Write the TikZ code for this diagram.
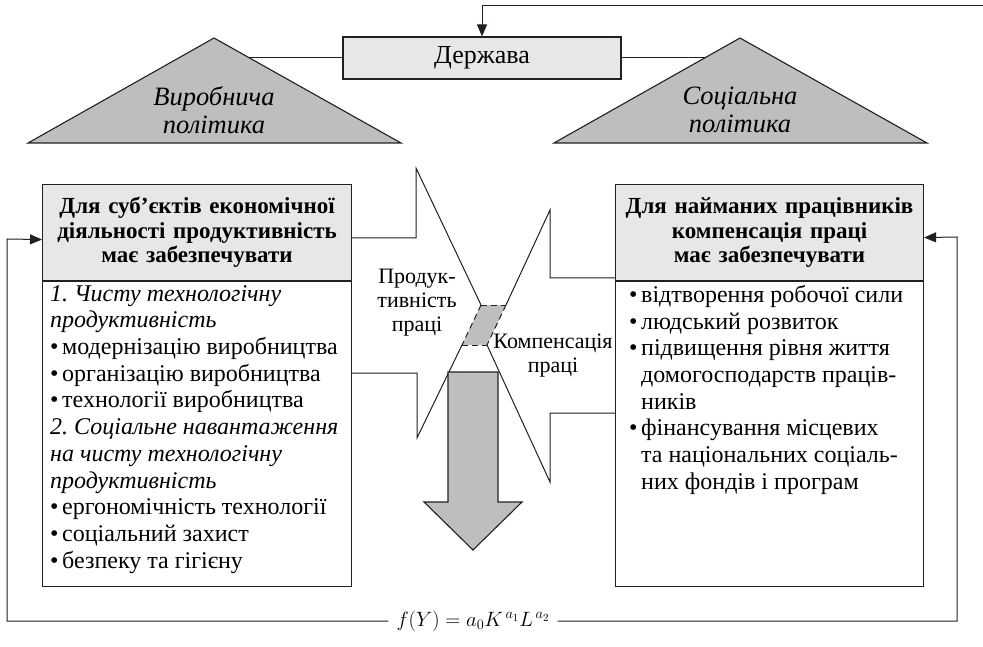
\documentclass[tikz,border=0pt]{standalone}
\usepackage{fontspec}
\setmainfont{Liberation Serif}
\usetikzlibrary{arrows.meta}
\frenchspacing

\definecolor{lightgrey}{RGB}{230,231,232}
\definecolor{midgrey}{RGB}{188,190,192}
\definecolor{inkblack}{RGB}{35,31,32}

\newcommand{\itm}{\makebox[12pt][l]{\textbullet}}
\newcommand{\hang}{\hspace*{12pt}}

\tikzset{
  outline/.style={draw=inkblack, line width=1.1pt},
  thinline/.style={draw=inkblack, line width=1pt},
  dashline/.style={thinline, dash pattern=on 6pt off 4pt},
  fbline/.style={thinline, -{Triangle[length=12pt,width=10pt]}},
  statebox/.style={outline, fill=lightgrey, minimum width=278pt, minimum height=42pt,
    font=\fontsize{26}{28}\selectfont},
  tri/.style={outline, fill=midgrey},
  tritext/.style={align=center, font=\fontsize{26.5}{28}\selectfont\itshape},
  headbox/.style={outline, fill=lightgrey, text width=293pt, inner xsep=8pt,
    minimum height=96pt, align=center, font=\fontsize{23}{24.5}\selectfont\bfseries},
  bodybox/.style={outline, minimum height=305pt},
  listtext/.style={align=left, inner xsep=8pt, inner ysep=4pt,
    font=\fontsize{24}{26.7}\selectfont},
  midtext/.style={align=center, font=\fontsize{22}{24}\selectfont},
  formula/.style={inner xsep=8pt, text height=17pt, text depth=6pt,
    font=\fontsize{22}{26}\selectfont}
}

\begin{document}
\begin{tikzpicture}[x=1pt, y=-1pt]
\useasboundingbox (0,0) rectangle (983,647);

% state and its two policies
\node[statebox] (state) at (482,58) {Держава};
\coordinate (topend) at (983,6);
\draw[fbline] (topend) -- (state.north |- topend) -- (state.north);
\draw[thinline] (state.west) -- (214,58);
\draw[thinline] (state.east) -- (740,58);
\draw[tri] (28,143) -- (214,38) -- (401,143) -- cycle;
\draw[tri] (554,143) -- (740,38) -- (927,143) -- cycle;
\node[tritext] (lpol) at (214,110) {Виробнича\\політика};
\node[tritext] (rpol) at (740,110) {Соціальна\\політика};

% left block
\node[headbox, anchor=north west] (lhead) at (42,184)
  {Для суб’єктів економічної\\діяльності продуктивність\\має забезпечувати};
\node[bodybox, anchor=north west, minimum width=309pt] (lbody) at (lhead.south west) {};
\node[listtext, anchor=north west] (ltext) at (lbody.north west)
  {\textit{1. Чисту технологічну}\\
   \textit{продуктивність}\\
   \itm модернізацію виробництва\\
   \itm організацію виробництва\\
   \itm технології виробництва\\
   \textit{2. Соціальне навантаження}\\
   \textit{на чисту технологічну}\\
   \textit{продуктивність}\\
   \itm ергономічність технології\\
   \itm соціальний захист\\
   \itm безпеку та гігієну};

% right block
\node[headbox, anchor=north west, text width=292pt] (rhead) at (615,184)
  {Для найманих працівників\\компенсація праці\\має забезпечувати};
\node[bodybox, anchor=north west, minimum width=308pt] (rbody) at (rhead.south west) {};
\node[listtext, anchor=north west, inner xsep=14pt] (rtext) at (rbody.north west)
  {\itm відтворення робочої сили\\
   \itm людський розвиток\\
   \itm підвищення рівня життя\\
   \hang домогосподарств праців-\\
   \hang ників\\
   \itm фінансування місцевих\\
   \hang та національних соціаль-\\
   \hang них фондів і програм};

% the two arrows meeting in the middle
\fill[midgrey] (481,305) -- (506,305) -- (487,345) -- (462,345) -- cycle;
\draw[dashline] (481,305) -- (506,305) (462,345) -- (487,345);
\draw[thinline] (lhead.east |- 0,238) -- (416,238) -- (416,168) -- (481,305);
\draw[dashline] (481,305) -- (462,345);
\draw[thinline] (462,345) -- (417,438) -- (417,373) -- (lbody.east |- 0,373);
\draw[thinline] (rhead.west |- 0,278) -- (550,278) -- (550,210) -- (506,305);
\draw[dashline] (506,305) -- (487,345);
\draw[thinline] (487,345) -- (550,482) -- (550,413) -- (rbody.west |- 0,413);
\draw[tri] (448,372) -- (498,372) -- (498,502) -- (522,502) -- (473,550)
  -- (424,502) -- (448,502) -- cycle;
\node[midtext] (prod) at (417,303) {Продук-\\тивність\\праці};
\node[midtext] (comp) at (553,356) {Компенсація\\праці};

% production function and feedback
\node[formula] (fy) at (473,621) {$f(Y) = a_0K^{\,a_1}L^{\,a_2}$};
\draw[fbline] (fy.west) -| (7,239) -- ([yshift=-7pt]lhead.west);
\draw[fbline] (fy.east) -| (957,237) -- ([yshift=-5pt]rhead.east);
\end{tikzpicture}
\end{document}
